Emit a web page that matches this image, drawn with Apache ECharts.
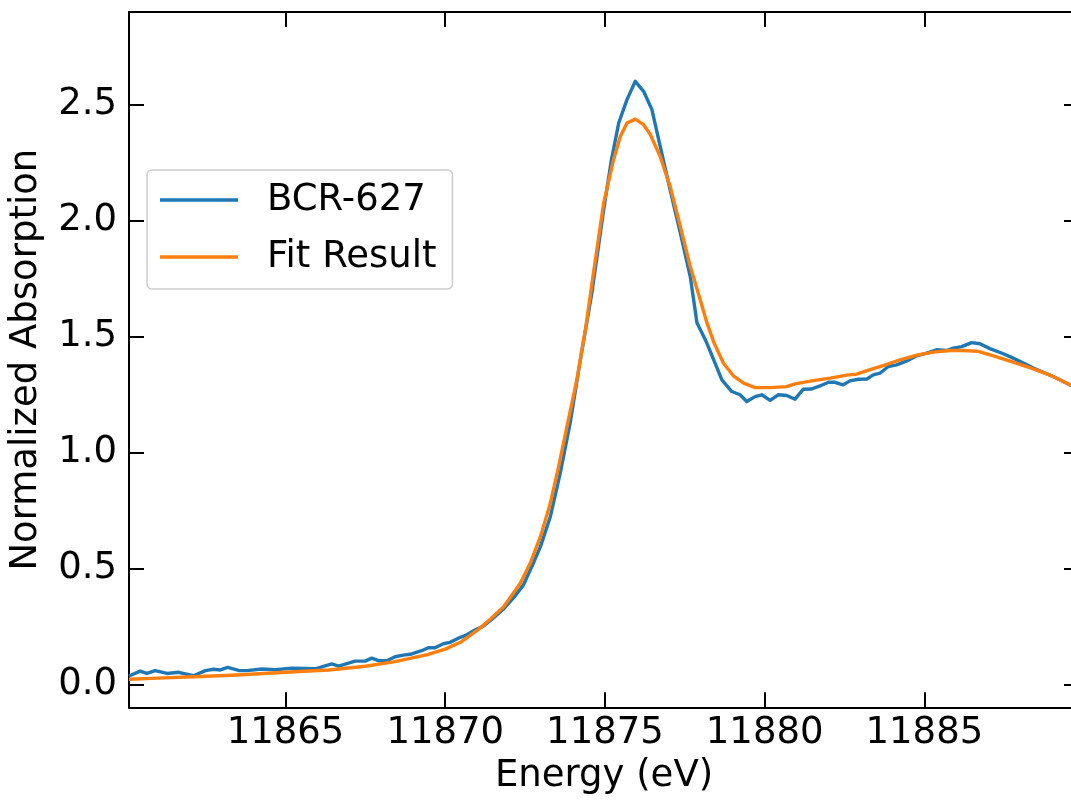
<!DOCTYPE html>
<html>
<head>
<meta charset="utf-8">
<script src="https://cdn.jsdelivr.net/npm/echarts@6/dist/echarts.min.js"></script>
<style>
html,body{margin:0;padding:0;background:#fff;}
#chart{width:1071px;height:803px;}
</style>
</head>
<body>
<div id="chart"></div>
<script>
const energyBlue = [11860.10, 11860.45, 11860.66, 11860.92, 11861.29, 11861.65, 11862.12, 11862.49, 11862.75, 11862.96, 11863.19, 11863.53, 11863.79, 11864.26, 11864.68, 11865.20, 11865.93, 11866.45, 11866.66, 11867.18, 11867.49, 11867.70, 11867.91, 11868.17, 11868.43, 11868.69, 11868.95, 11869.26, 11869.47, 11869.68, 11869.94, 11870.15, 11870.41, 11870.62, 11870.93, 11871.20, 11871.50, 11871.82, 11872.15, 11872.45, 11872.75, 11872.98, 11873.29, 11873.60, 11873.91, 11874.23, 11874.59, 11874.96, 11875.20, 11875.43, 11875.69, 11875.95, 11876.21, 11876.47, 11876.73, 11877.04, 11877.36, 11877.67, 11877.88, 11878.19, 11878.66, 11878.97, 11879.23, 11879.44, 11879.70, 11879.91, 11880.17, 11880.43, 11880.69, 11880.95, 11881.21, 11881.47, 11881.73, 11882.00, 11882.20, 11882.46, 11882.67, 11882.93, 11883.20, 11883.40, 11883.61, 11883.87, 11884.13, 11884.45, 11884.76, 11885.07, 11885.38, 11885.70, 11885.90, 11886.17, 11886.48, 11886.74, 11887.05, 11887.47, 11887.78, 11888.41, 11889.03, 11889.55, 11889.84];
const absBlue = [0.036, 0.057, 0.047, 0.059, 0.047, 0.052, 0.037, 0.059, 0.065, 0.062, 0.073, 0.060, 0.059, 0.066, 0.063, 0.070, 0.067, 0.088, 0.079, 0.100, 0.100, 0.113, 0.102, 0.102, 0.119, 0.126, 0.131, 0.145, 0.158, 0.158, 0.175, 0.181, 0.199, 0.210, 0.234, 0.252, 0.285, 0.325, 0.375, 0.429, 0.520, 0.594, 0.723, 0.911, 1.126, 1.400, 1.688, 2.047, 2.260, 2.421, 2.522, 2.601, 2.558, 2.479, 2.320, 2.133, 1.946, 1.759, 1.560, 1.472, 1.313, 1.263, 1.249, 1.220, 1.241, 1.249, 1.225, 1.249, 1.246, 1.230, 1.273, 1.274, 1.287, 1.303, 1.303, 1.292, 1.309, 1.316, 1.317, 1.335, 1.342, 1.371, 1.378, 1.395, 1.417, 1.429, 1.443, 1.440, 1.450, 1.457, 1.474, 1.469, 1.448, 1.426, 1.407, 1.364, 1.328, 1.292, 1.275];
const energyFit = [11860.10, 11861.00, 11862.12, 11863.50, 11864.99, 11866.35, 11867.50, 11868.43, 11869.47, 11870.00, 11870.51, 11871.04, 11871.40, 11871.83, 11872.35, 11872.66, 11872.98, 11873.29, 11873.55, 11873.81, 11874.12, 11874.40, 11874.64, 11874.96, 11875.27, 11875.48, 11875.69, 11875.95, 11876.21, 11876.42, 11876.73, 11877.04, 11877.36, 11877.67, 11877.98, 11878.19, 11878.40, 11878.71, 11879.02, 11879.34, 11879.70, 11880.17, 11880.69, 11880.95, 11881.52, 11882.05, 11882.57, 11882.88, 11883.30, 11883.71, 11884.24, 11884.76, 11885.28, 11885.80, 11886.22, 11886.69, 11887.16, 11887.78, 11888.41, 11889.03, 11889.55, 11889.84];
const absFit = [0.022, 0.027, 0.033, 0.040, 0.052, 0.062, 0.078, 0.098, 0.129, 0.152, 0.184, 0.237, 0.280, 0.335, 0.436, 0.522, 0.637, 0.781, 0.939, 1.112, 1.313, 1.540, 1.774, 2.076, 2.263, 2.363, 2.421, 2.438, 2.414, 2.371, 2.277, 2.148, 1.975, 1.802, 1.660, 1.560, 1.478, 1.385, 1.331, 1.299, 1.280, 1.280, 1.284, 1.296, 1.310, 1.321, 1.334, 1.338, 1.357, 1.375, 1.400, 1.420, 1.433, 1.440, 1.440, 1.436, 1.417, 1.390, 1.361, 1.328, 1.292, 1.275];
const xTicks = [11865, 11870, 11875, 11880, 11885];
const yTicks = [0.0, 0.5, 1.0, 1.5, 2.0, 2.5];
const seriesNames = ['BCR-627', 'Fit Result'];

const FONT = 'DejaVu Sans';
const FS = 37;
const xMin = 11860.1, xMax = 11889.84, yMin = -0.099, yMax = 2.9;

const chart = echarts.init(document.getElementById('chart'), null, {renderer: 'canvas'});
const tickStyle = {show: true, inside: true, length: 15, lineStyle: {color: '#000', width: 2}};
const lineStyleAxis = {show: true, onZero: false, lineStyle: {color: '#000', width: 2}};

chart.setOption({
  animation: false,
  backgroundColor: '#fff',
  grid: {left: 129, top: 12, width: 950, height: 695.3, containLabel: false, outerBoundsMode: 'none'},
  legend: {
    left: 147, top: 170,
    orient: 'vertical',
    data: seriesNames,
    icon: 'rect',
    itemWidth: 78, itemHeight: 3.5,
    itemGap: 17,
    padding: [10, 16, 12, 13],
    backgroundColor: '#fff',
    borderColor: '#cccccc', borderWidth: 1.5, borderRadius: 5,
    textStyle: {fontFamily: FONT, fontSize: FS, color: '#000', lineHeight: 40, padding: [0, 0, 0, 24]}
  },
  xAxis: [{
    type: 'value', position: 'bottom', min: xMin, max: xMax,
    axisLine: lineStyleAxis,
    axisTick: Object.assign({customValues: xTicks}, tickStyle),
    axisLabel: {customValues: xTicks, fontFamily: FONT, fontSize: FS, color: '#000', margin: 8,
      formatter: v => String(v)},
    splitLine: {show: false},
    name: 'Energy (eV)', nameLocation: 'middle', nameGap: 51,
    nameTextStyle: {fontFamily: FONT, fontSize: FS, color: '#000'}
  }, {
    type: 'value', position: 'top', min: xMin, max: xMax,
    axisLine: lineStyleAxis,
    axisTick: Object.assign({customValues: xTicks}, tickStyle),
    axisLabel: {show: false},
    splitLine: {show: false}
  }],
  yAxis: [{
    type: 'value', position: 'left', min: yMin, max: yMax,
    axisLine: lineStyleAxis,
    axisTick: Object.assign({customValues: yTicks}, tickStyle),
    axisLabel: {customValues: yTicks, fontFamily: FONT, fontSize: FS, color: '#000', margin: 12,
      formatter: v => v.toFixed(1)},
    splitLine: {show: false},
    name: 'Normalized Absorption', nameLocation: 'middle', nameGap: 84, nameRotate: 90,
    nameTextStyle: {fontFamily: FONT, fontSize: FS, color: '#000'}
  }, {
    type: 'value', position: 'right', min: yMin, max: yMax,
    axisLine: lineStyleAxis,
    axisTick: Object.assign({customValues: yTicks}, tickStyle),
    axisLabel: {show: false},
    splitLine: {show: false}
  }],
  series: [{
    name: seriesNames[0], type: 'line', xAxisIndex: 0, yAxisIndex: 0,
    data: energyBlue.map((e, i) => [e, absBlue[i]]),
    showSymbol: false, symbol: 'none',
    lineStyle: {color: '#1f77b4', width: 3.4, join: 'round'},
    itemStyle: {color: '#1f77b4'}
  }, {
    name: seriesNames[1], type: 'line', xAxisIndex: 0, yAxisIndex: 0,
    data: energyFit.map((e, i) => [e, absFit[i]]),
    showSymbol: false, symbol: 'none',
    lineStyle: {color: '#ff7f0e', width: 3.4, join: 'round'},
    itemStyle: {color: '#ff7f0e'}
  }]
});
</script>
</body>
</html>
